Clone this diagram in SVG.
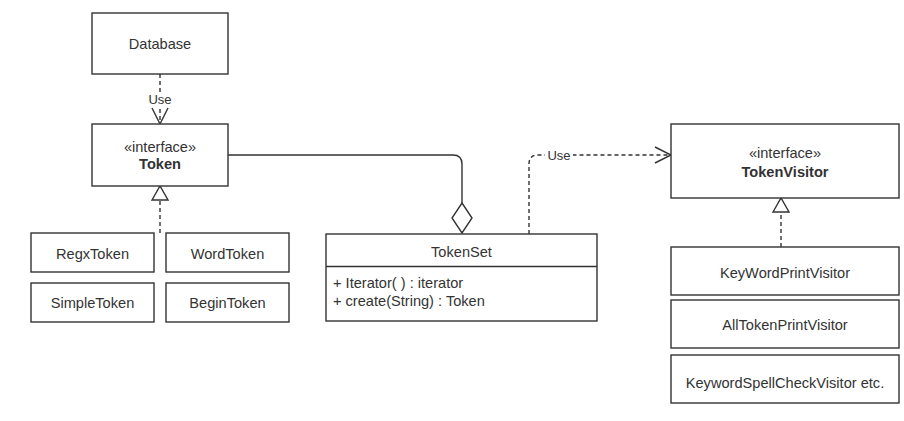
<svg xmlns="http://www.w3.org/2000/svg" width="904" height="421" viewBox="0 0 904 421">
<defs>
<style>
.box{fill:#fff;stroke:#333;stroke-width:1.4}
.t{font-family:"Liberation Sans",Arial,sans-serif;font-size:14.6px;fill:#333;text-anchor:middle}
.s{font-size:13px}
.b{font-weight:bold}
.l{text-anchor:start}
.ln{fill:none;stroke:#333;stroke-width:1.4}
.dash{stroke-dasharray:4 3}
</style>
<marker id="open" viewBox="0 0 20 20" refX="18" refY="10" markerWidth="20" markerHeight="20" markerUnits="userSpaceOnUse" orient="auto">
<path d="M2,2 L18,10 L2,18" fill="none" stroke="#333" stroke-width="1.4"/>
</marker>
<marker id="tri" viewBox="0 0 20 20" refX="18" refY="10" markerWidth="20" markerHeight="20" markerUnits="userSpaceOnUse" orient="auto">
<path d="M4,2 L18,10 L4,18 Z" fill="#fff" stroke="#333" stroke-width="1.4"/>
</marker>
<marker id="dia" viewBox="0 0 32 22" refX="31" refY="11" markerWidth="32" markerHeight="22" markerUnits="userSpaceOnUse" orient="auto">
<path d="M1,11 L16,1 L31,11 L16,21 Z" fill="#fff" stroke="#333" stroke-width="1.4"/>
</marker>
</defs>
<rect width="904" height="421" fill="#fff"/>
<g id="connectors">
<path class="ln dash" d="M160,74 V124" marker-end="url(#open)"/>
<rect x="146" y="92" width="28" height="14" fill="#fff"/>
<text class="t s" x="160" y="103.5">Use</text>
<path class="ln dash" d="M160,233 V186" marker-end="url(#tri)"/>
<path class="ln" d="M228,155 H453 Q462,155 462,164 V233" marker-end="url(#dia)"/>
<path class="ln dash" d="M529,234 V164 Q529,155 538,155 H671" marker-end="url(#open)"/>
<rect x="545" y="148" width="28" height="14" fill="#fff"/>
<text class="t s" x="559" y="159.5">Use</text>
<path class="ln dash" d="M781,247 V198" marker-end="url(#tri)"/>
</g>
<g id="database"><rect class="box" x="92" y="13" width="136" height="61"/><text class="t" x="160" y="49">Database</text></g>
<g id="token"><rect class="box" x="92" y="124" width="136" height="62"/><text class="t" x="160" y="152">«interface»</text><text class="t b" x="160" y="169">Token</text></g>
<g id="regxtoken"><rect class="box" x="31" y="233" width="123" height="39"/><text class="t" x="92.5" y="258.5">RegxToken</text></g>
<g id="wordtoken"><rect class="box" x="166" y="233" width="123" height="39"/><text class="t" x="227.5" y="258.5">WordToken</text></g>
<g id="simpletoken"><rect class="box" x="31" y="283" width="123" height="39"/><text class="t" x="92.5" y="308">SimpleToken</text></g>
<g id="begintoken"><rect class="box" x="166" y="283" width="123" height="39"/><text class="t" x="227.5" y="308">BeginToken</text></g>
<g id="tokenset"><rect class="box" x="326" y="234" width="271" height="87"/><line class="ln" x1="326" y1="266.5" x2="597" y2="266.5"/><text class="t" x="461.5" y="257">TokenSet</text><text class="t l" x="333" y="288">+ Iterator( ) : iterator</text><text class="t l" x="333" y="306">+ create(String) : Token</text></g>
<g id="tokenvisitor"><rect class="box" x="671" y="124" width="228" height="74"/><text class="t" x="785" y="158">«interface»</text><text class="t b" x="785" y="177">TokenVisitor</text></g>
<g id="keywordprintvisitor"><rect class="box" x="671" y="247" width="228" height="48"/><text class="t" x="785" y="278">KeyWordPrintVisitor</text></g>
<g id="alltokenprintvisitor"><rect class="box" x="671" y="300" width="228" height="48"/><text class="t" x="785" y="330">AllTokenPrintVisitor</text></g>
<g id="keywordspellcheckvisitor"><rect class="box" x="671" y="355" width="228" height="48"/><text class="t" x="785" y="388">KeywordSpellCheckVisitor etc.</text></g>
</svg>
